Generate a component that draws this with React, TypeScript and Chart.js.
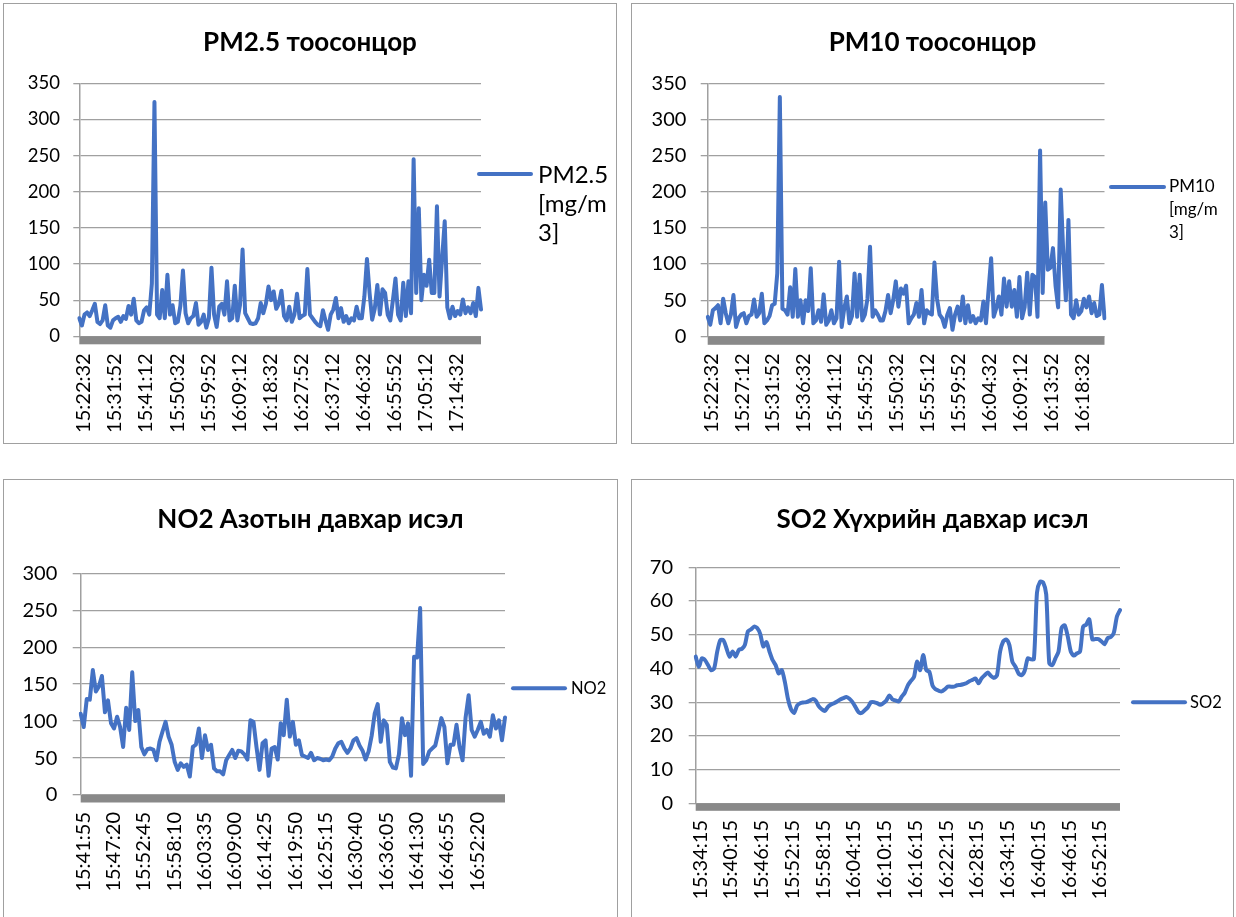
import React, { useEffect, useRef } from 'react';
import { Chart, registerables } from 'chart.js';

Chart.register(...registerables);

const FONT = 'Lato, "Noto Sans", "DejaVu Sans", sans-serif';
const LINE_COLOR = '#4472C4';
const GRID_COLOR = '#a0a0a0';
const BAR_COLOR = '#898989';
const LINE_WIDTH = 4;

// ---------- data ----------
const pm25Values = [
  25, 15, 30, 33, 28, 36, 45, 20, 17, 22,
  43, 15, 12, 22, 25, 27, 20, 28, 24, 42,
  30, 52, 22, 18, 20, 36, 40, 30, 73, 324,
  30, 25, 64, 25, 85, 30, 43, 18, 20, 42,
  91, 32, 18, 25, 28, 46, 16, 20, 30, 12,
  25, 95, 30, 13, 41, 45, 30, 76, 22, 25,
  70, 22, 43, 120, 32, 25, 18, 17, 18, 25,
  46, 32, 45, 69, 50, 62, 38, 45, 63, 28,
  22, 41, 20, 30, 59, 25, 28, 30, 93, 30,
  25, 20, 16, 14, 36, 22, 9, 30, 37, 53,
  25, 39, 20, 28, 18, 25, 22, 41, 25, 25,
  55, 107, 60, 23, 38, 71, 30, 65, 60, 30,
  22, 50, 80, 30, 22, 74, 28, 76, 32, 245,
  60, 177, 50, 85, 70, 106, 60, 60, 180, 55,
  108, 159, 40, 25, 41, 28, 35, 30, 51, 32,
  40, 32, 46, 28, 67, 37,
];
const pm25TickLabels = [
  '15:22:32', '15:31:52', '15:41:12', '15:50:32', '15:59:52', '16:09:12', '16:18:32',
  '16:27:52', '16:37:12', '16:46:32', '16:55:52', '17:05:12', '17:14:32',
];

const pm10Values = [
  27, 16, 36, 39, 43, 18, 52, 32, 18, 30,
  57, 13, 25, 30, 32, 18, 28, 30, 51, 27,
  32, 59, 18, 22, 28, 43, 45, 87, 331, 38,
  36, 30, 68, 27, 93, 27, 50, 18, 50, 35,
  94, 18, 22, 36, 20, 58, 16, 22, 36, 18,
  25, 103, 13, 39, 55, 18, 28, 87, 27, 85,
  22, 30, 52, 124, 27, 36, 30, 22, 22, 35,
  57, 32, 50, 76, 41, 66, 59, 70, 18, 25,
  30, 46, 27, 64, 18, 36, 32, 30, 102, 52,
  30, 25, 13, 30, 39, 9, 30, 41, 22, 55,
  18, 43, 20, 28, 18, 25, 22, 48, 18, 64,
  108, 27, 39, 55, 30, 80, 41, 76, 41, 64,
  27, 82, 25, 40, 88, 30, 85, 82, 27, 257,
  60, 185, 92, 95, 122, 70, 40, 203, 115, 50,
  161, 30, 25, 50, 30, 35, 52, 40, 55, 32,
  46, 28, 30, 71, 25,
];
const pm10TickLabels = [
  '15:22:32', '15:27:12', '15:31:52', '15:36:32', '15:41:12', '15:45:52', '15:50:32',
  '15:55:12', '15:59:52', '16:04:32', '16:09:12', '16:13:52', '16:18:32',
];

const no2Values = [
  110, 92, 130, 129, 169, 140, 147, 161, 112, 128,
  97, 90, 106, 92, 65, 118, 88, 166, 100, 115,
  65, 55, 62, 63, 61, 47, 72, 86, 99, 79,
  68, 45, 34, 43, 38, 41, 25, 65, 68, 90,
  50, 81, 61, 68, 36, 32, 32, 28, 47, 54,
  61, 50, 60, 59, 55, 48, 101, 99, 65, 34,
  70, 74, 26, 63, 65, 48, 97, 81, 129, 79,
  99, 68, 74, 54, 52, 50, 57, 47, 50, 49,
  47, 48, 47, 52, 63, 70, 72, 63, 57, 63,
  74, 77, 67, 60, 48, 59, 80, 110, 123, 72,
  101, 95, 45, 37, 36, 55, 104, 81, 97, 26,
  187, 186, 253, 42, 47, 59, 63, 67, 85, 104,
  92, 43, 68, 68, 95, 65, 47, 105, 135, 88,
  79, 88, 99, 83, 88, 79, 108, 90, 101, 74,
  105,
];
const no2TickLabels = [
  '15:41:55', '15:47:20', '15:52:45', '15:58:10', '16:03:35', '16:09:00', '16:14:25',
  '16:19:50', '16:25:15', '16:30:40', '16:36:05', '16:41:30', '16:46:55', '16:52:20',
];

const so2Values = [
  43.5, 40.5, 43, 42.5, 41, 39.5, 40, 45, 48.4, 48.4,
  46, 43.5, 45, 43.5, 45.5, 45.8, 47, 51, 51.6, 52.4,
  52, 50.2, 46.5, 47.8, 45, 42.5, 41, 38.5, 39.5, 36,
  31, 27.9, 26.8, 29, 29.7, 29.9, 30, 30.4, 30.9, 30.5,
  28.8, 27.9, 27.4, 28.6, 29.3, 29.7, 30.2, 30.8, 31.2, 31.5,
  31, 30, 28.5, 27, 26.8, 27.6, 28.5, 30, 30, 29.7,
  29.2, 29.7, 30.5, 32, 30.8, 30.5, 30.2, 31.6, 32.8, 35,
  36.3, 37.5, 42, 39.5, 44, 39.5, 39, 35, 33.8, 33.4,
  33.2, 33.8, 34.6, 34.6, 34.6, 35, 35.1, 35.3, 35.6, 36.2,
  36.6, 37, 35.6, 37.1, 38, 38.8, 37.8, 37.2, 38, 45,
  48, 48.6, 47, 42, 40.5, 38.5, 38, 39.3, 43, 42.7,
  42.8, 62.5, 65.7, 65.5, 62, 41.5, 41, 43, 45, 52,
  52.8, 49.5, 45, 43.8, 44.5, 45, 52.4, 53, 54.6, 48.6,
  48.7, 48.7, 48, 47.2, 49, 49.3, 50.6, 55.4, 57.3,
];
const so2TickLabels = [
  '15:34:15', '15:40:15', '15:46:15', '15:52:15', '15:58:15', '16:04:15', '16:10:15',
  '16:16:15', '16:22:15', '16:28:15', '16:34:15', '16:40:15', '16:46:15', '16:52:15',
];

// samples between two consecutive time labels
const PM_LABEL_STEP = 12;
const GAS_LABEL_STEP = 10;

// ---------- helpers ----------
function buildLabels(n: number, step: number, ticks: string[]) {
  const out: string[] = [];
  for (let i = 0; i < n; i++) {
    const k = i / step;
    out.push(i % step === 0 && k < ticks.length ? ticks[k] : '');
  }
  return out;
}

const decorPlugin = {
  id: 'decor',
  beforeDatasetsDraw(chart: any, _args: any, opts: any) {
    const { ctx, chartArea } = chart;
    ctx.save();
    ctx.fillStyle = BAR_COLOR;
    ctx.fillRect(chartArea.left, chartArea.bottom, chartArea.right - chartArea.left, opts.barHeight);
    ctx.restore();
  },
  afterDraw(chart: any, _args: any, opts: any) {
    const { ctx } = chart;
    const L = opts.legend;
    ctx.save();
    ctx.strokeStyle = LINE_COLOR;
    ctx.lineWidth = LINE_WIDTH;
    ctx.lineCap = 'round';
    ctx.beginPath();
    ctx.moveTo(L.x, L.y);
    ctx.lineTo(L.x + L.len, L.y);
    ctx.stroke();
    ctx.fillStyle = '#000';
    ctx.font = `${L.size}px ${FONT}`;
    ctx.textAlign = 'left';
    ctx.textBaseline = 'middle';
    L.lines.forEach((t: string, i: number) => {
      ctx.fillText(t, L.x + L.len + L.gap, L.y + (L.dy || 0) + i * (L.lh || 0));
    });
    ctx.restore();
  },
};

type Spec = {
  title: string;
  series: string;
  values: number[];
  ticks: string[];
  step: number;
  yMax: number;
  yStep: number;
  box: { left: number; top: number; width: number; height: number };
  area: { left: number; bottom: number; right: number };
  titleSize: number;
  titlePad: { top: number; bottom: number };
  yFont: number;
  yTick: number;
  yPad: number;
  xPad: number;
  xOffset: number;
  barHeight: number;
  tension: number;
  legend: any;
};

const specs: Spec[] = [
  {
    title: 'PM2.5 тоосонцор',
    series: 'PM2.5 [mg/m3]',
    values: pm25Values,
    ticks: pm25TickLabels,
    step: PM_LABEL_STEP,
    yMax: 350,
    yStep: 50,
    box: { left: 3, top: 3, width: 614, height: 441 },
    area: { left: 75.3, bottom: 332.3, right: 477 },
    titleSize: 26,
    titlePad: { top: 23.4, bottom: 24.7 },
    yFont: 18.5,
    yTick: 6,
    yPad: 13.3,
    xPad: 17,
    xOffset: 4.5,
    barHeight: 8,
    tension: 0,
    legend: { x: 475, y: 170, dy: 1, len: 52, gap: 7, lines: ['PM2.5', '[mg/m', '3]'], lh: 29, size: 24 },
  },
  {
    title: 'PM10 тоосонцор',
    series: 'PM10 [mg/m3]',
    values: pm10Values,
    ticks: pm10TickLabels,
    step: PM_LABEL_STEP,
    yMax: 350,
    yStep: 50,
    box: { left: 631, top: 3, width: 603, height: 441 },
    area: { left: 75.7, bottom: 332.3, right: 472.5 },
    titleSize: 26,
    titlePad: { top: 22.9, bottom: 25.2 },
    yFont: 20,
    yTick: 7,
    yPad: 14.3,
    xPad: 17,
    xOffset: 3.5,
    barHeight: 8.5,
    tension: 0,
    legend: { x: 479, y: 183, len: 53, gap: 5, lines: ['PM10', '[mg/m', '3]'], lh: 23, size: 17 },
  },
  {
    title: 'NO2 Азотын давхар исэл',
    series: 'NO2',
    values: no2Values,
    ticks: no2TickLabels,
    step: GAS_LABEL_STEP,
    yMax: 300,
    yStep: 50,
    box: { left: 3, top: 479, width: 615, height: 445 },
    area: { left: 76.7, bottom: 315, right: 501 },
    titleSize: 26,
    titlePad: { top: 24.4, bottom: 37.7 },
    yFont: 20,
    yTick: 8,
    yPad: 15.4,
    xPad: 17,
    xOffset: 2.5,
    barHeight: 7.5,
    tension: 0,
    legend: { x: 509, y: 208.3, len: 52, gap: 6, lines: ['NO2'], lh: 0, size: 16.5 },
  },
  {
    title: 'SO2 Хүхрийн давхар исэл',
    series: 'SO2',
    values: so2Values,
    ticks: so2TickLabels,
    step: GAS_LABEL_STEP,
    yMax: 70,
    yStep: 10,
    box: { left: 631, top: 479, width: 603, height: 445 },
    area: { left: 63.7, bottom: 323.3, right: 488 },
    titleSize: 26,
    titlePad: { top: 24.4, bottom: 31.7 },
    yFont: 20,
    yTick: 7,
    yPad: 15.7,
    xPad: 16.7,
    xOffset: 4.5,
    barHeight: 7.5,
    tension: 0.25,
    legend: { x: 501, y: 222.3, len: 52, gap: 5, lines: ['SO2'], lh: 0, size: 16.5 },
  },
];

function makeConfig(s: Spec, cw: number, ch: number): any {
  return {
    type: 'line',
    data: {
      labels: buildLabels(s.values.length, s.step, s.ticks),
      datasets: [
        {
          label: s.series,
          data: s.values,
          borderColor: LINE_COLOR,
          backgroundColor: LINE_COLOR,
          borderWidth: LINE_WIDTH,
          pointRadius: 0,
          pointHoverRadius: 0,
          tension: s.tension,
          borderJoinStyle: 'round',
          borderCapStyle: 'round',
          fill: false,
        },
      ],
    },
    options: {
      responsive: false,
      animation: false,
      events: [],
      devicePixelRatio: 1,
      layout: { padding: 0 },
      plugins: {
        legend: { display: false },
        tooltip: { enabled: false },
        title: {
          display: true,
          text: s.title,
          color: '#000',
          font: { family: FONT, size: s.titleSize, weight: 'bold', lineHeight: 1.2 },
          padding: s.titlePad,
        },
        decor: { barHeight: s.barHeight, legend: s.legend },
      },
      scales: {
        x: {
          type: 'category',
          offset: false,
          grid: { display: false, drawTicks: false },
          border: { display: false },
          ticks: {
            autoSkip: false,
            minRotation: 90,
            maxRotation: 90,
            padding: s.xPad,
            labelOffset: s.xOffset,
            color: '#000',
            font: { family: FONT, size: 20 },
          },
          afterFit: (sc: any) => {
            sc.height = ch - s.area.bottom;
          },
        },
        y: {
          type: 'linear',
          min: 0,
          max: s.yMax,
          ticks: {
            stepSize: s.yStep,
            padding: s.yPad,
            color: '#000',
            font: { family: FONT, size: s.yFont },
          },
          grid: { color: GRID_COLOR, lineWidth: 1.3, drawTicks: true, tickLength: s.yTick },
          border: { display: true, color: GRID_COLOR, width: 1.5 },
          afterFit: (sc: any) => {
            sc.width = s.area.left;
          },
        },
        // empty right-hand gutter that holds the side legend, so the title stays centred on the panel
        gutter: {
          type: 'linear',
          position: 'right',
          display: true,
          min: 0,
          max: 1,
          grid: { display: false, drawTicks: false },
          border: { display: false },
          ticks: { display: false },
          afterFit: (sc: any) => {
            sc.width = cw - s.area.right;
          },
        },
      },
    },
    plugins: [decorPlugin],
  };
}

function Panel({ spec }: { spec: Spec }) {
  const ref = useRef<HTMLCanvasElement | null>(null);
  const cw = spec.box.width - 2;
  const ch = spec.box.height - 2;
  useEffect(() => {
    if (!ref.current) return;
    const chart = new Chart(ref.current, makeConfig(spec, cw, ch));
    return () => chart.destroy();
  }, [spec, cw, ch]);
  return (
    <div
      style={{
        position: 'absolute',
        left: spec.box.left,
        top: spec.box.top,
        width: spec.box.width,
        height: spec.box.height,
        border: '1px solid #a0a0a0',
        boxSizing: 'border-box',
        background: '#fff',
      }}
    >
      <canvas ref={ref} width={cw} height={ch} style={{ display: 'block', width: cw, height: ch }} />
    </div>
  );
}

export default function App() {
  return (
    <div
      style={{
        position: 'absolute',
        left: 0,
        top: 0,
        width: 1236,
        height: 917,
        overflow: 'hidden',
        background: '#fff',
      }}
    >
      {specs.map((s, i) => (
        <Panel key={i} spec={s} />
      ))}
    </div>
  );
}
